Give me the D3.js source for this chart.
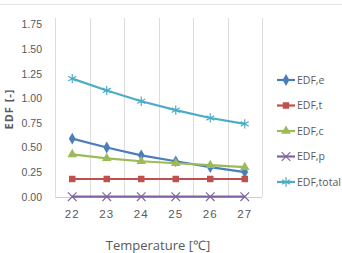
<!DOCTYPE html>
<html>
<head>
<meta charset="utf-8">
<script src="https://cdn.jsdelivr.net/npm/d3@7"></script>
<style>
  body { margin: 0; background: #fff; }
  svg { display: block; font-family: "Open Sans", sans-serif; }
</style>
</head>
<body>
<div id="chart"></div>
<script>
// Data
const temps = [22, 23, 24, 25, 26, 27];
const edfE = [0.59, 0.50, 0.42, 0.36, 0.30, 0.25];
const edfT = [0.18, 0.18, 0.18, 0.18, 0.18, 0.18];
const edfC = [0.43, 0.39, 0.36, 0.34, 0.32, 0.30];
const edfP = [0, 0, 0, 0, 0, 0];
const edfTotal = [1.20, 1.08, 0.97, 0.88, 0.80, 0.74];
const yTicks = [0, 0.25, 0.5, 0.75, 1.0, 1.25, 1.5, 1.75];

const series = [
    { name: "EDF,e", values: edfE, color: "#4a7ebb", symbol: d3.symbolDiamond, size: 40, fill: true },
    { name: "EDF,t", values: edfT, color: "#c0504d", symbol: d3.symbolSquare, size: 42, fill: true },
    { name: "EDF,c", values: edfC, color: "#9bbb59", symbol: d3.symbolTriangle, size: 40, fill: true },
    { name: "EDF,p", values: edfP, color: "#8064a2", symbol: d3.symbolTimes, size: 50, fill: false },
    { name: "EDF,total", values: edfTotal, color: "#4bacc6", symbol: d3.symbolAsterisk, size: 60, fill: false }
];

const width = 342, height = 253;

const svg = d3.select("#chart")
    .append("svg")
    .attr("width", width)
    .attr("height", height);

// top frame line
svg.append("line")
    .attr("x1", 0).attr("x2", width)
    .attr("y1", 4.5).attr("y2", 4.5)
    .attr("stroke", "#e3e3e3");

const xScale = d3.scaleBand()
    .domain(temps)
    .range([55, 262])
    .padding(0);

const yScale = d3.scaleLinear()
    .domain([0, 1.75])
    .range([196.7, 24.5]);

// vertical gridlines between categories
const bounds = temps.map(t => xScale(t)).concat([xScale.range()[1]]);
svg.append("g")
    .selectAll("line")
    .data(bounds)
    .enter()
    .append("line")
    .attr("x1", d => Math.round(d) + 0.5)
    .attr("x2", d => Math.round(d) + 0.5)
    .attr("y1", 18)
    .attr("y2", yScale(0))
    .attr("stroke", "#dcdcdc");

// baseline
svg.append("line")
    .attr("x1", 55).attr("x2", 262)
    .attr("y1", Math.round(yScale(0)) + 0.5)
    .attr("y2", Math.round(yScale(0)) + 0.5)
    .attr("stroke", "#d0d0d0");

// y axis labels
const yAxis = svg.append("g")
    .attr("transform", "translate(45,0)")
    .call(d3.axisLeft(yScale).tickValues(yTicks).tickFormat(d3.format(".2f")).tickSize(0).tickPadding(3));
yAxis.select(".domain").remove();
yAxis.selectAll("text")
    .attr("fill", "#595959")
    .style("font-size", "10.5px");

// x axis labels
const xAxis = svg.append("g")
    .attr("transform", `translate(0,${yScale(0) + 10})`)
    .call(d3.axisBottom(xScale).tickSize(0).tickPadding(3));
xAxis.select(".domain").remove();
xAxis.selectAll("text")
    .attr("fill", "#595959")
    .style("font-size", "11.5px")
    .style("letter-spacing", "1px");

// axis titles
svg.append("text")
    .attr("x", 158)
    .attr("y", 250)
    .attr("text-anchor", "middle")
    .attr("fill", "#595959")
    .style("font-size", "13px")
    .text("Temperature [\u2103]");

svg.append("text")
    .attr("transform", "translate(13,109) rotate(-90)")
    .attr("text-anchor", "middle")
    .attr("fill", "#595959")
    .style("font-size", "11px")
    .style("font-weight", "bold")
    .style("letter-spacing", "1px")
    .text("EDF [-]");

const xc = t => xScale(t) + xScale.bandwidth() / 2;

// lines and markers
series.forEach(s => {
    const pts = temps.map((t, i) => [xc(t), yScale(s.values[i])]);
    svg.append("path")
        .attr("d", d3.line()(pts))
        .attr("fill", "none")
        .attr("stroke", s.color)
        .attr("stroke-width", 2.2);
    svg.append("g")
        .selectAll("path")
        .data(pts)
        .enter()
        .append("path")
        .attr("transform", d => `translate(${d[0]},${d[1]})`)
        .attr("d", d3.symbol().type(s.symbol).size(s.size))
        .attr("fill", s.fill ? s.color : "none")
        .attr("stroke", s.color)
        .attr("stroke-width", s.fill ? 0 : 1.2);
});

// legend
const legend = svg.append("g");
series.forEach((s, i) => {
    const y = 80 + i * 25.5;
    legend.append("line")
        .attr("x1", 277).attr("x2", 295)
        .attr("y1", y).attr("y2", y)
        .attr("stroke", s.color)
        .attr("stroke-width", 2.2);
    legend.append("path")
        .attr("transform", `translate(286,${y})`)
        .attr("d", d3.symbol().type(s.symbol).size(s.size))
        .attr("fill", s.fill ? s.color : "none")
        .attr("stroke", s.color)
        .attr("stroke-width", s.fill ? 0 : 1.2);
    legend.append("text")
        .attr("x", 297)
        .attr("y", y)
        .attr("dy", "0.35em")
        .attr("fill", "#595959")
        .style("font-size", "10.5px")
        .text(s.name);
});
</script>
</body>
</html>
